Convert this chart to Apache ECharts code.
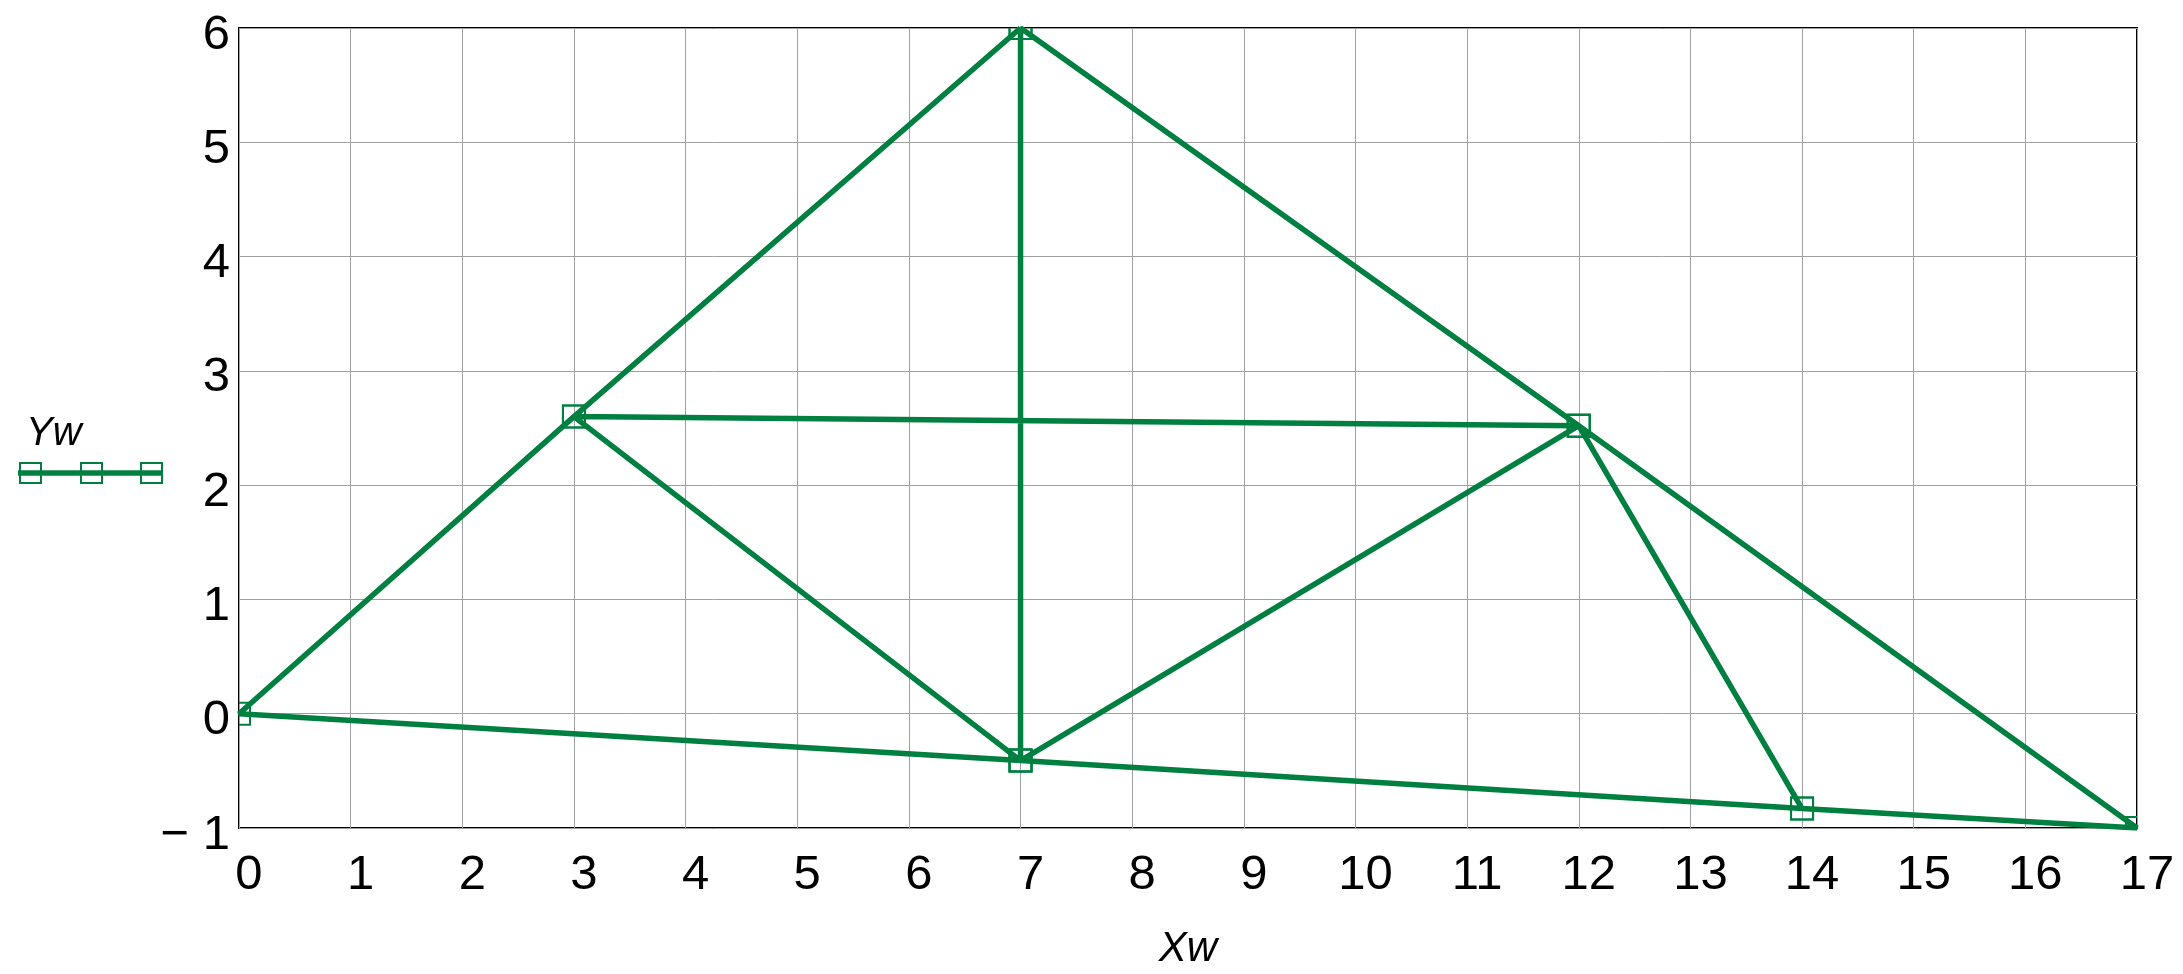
<!DOCTYPE html>
<html>
<head>
<meta charset="utf-8">
<style>
html,body{margin:0;padding:0;background:#fff;}
#chart{width:2183px;height:974px;}
</style>
<script src="https://cdn.jsdelivr.net/npm/echarts@6/dist/echarts.min.js"></script>
</head>
<body>
<div id="chart"></div>
<script>
// Truss path (Xw, Yw), traced as one polyline
const xw = [7, 3, 0, 7, 3, 12, 7, 7, 12, 14, 12, 17, 14, 7];
const yw = [6, 2.6, 0, -0.41, 2.6, 2.52, 6, -0.41, 2.52, -0.83, 2.52, -1, -0.83, -0.41];
// Axis ticks
const xTicks = [0,1,2,3,4,5,6,7,8,9,10,11,12,13,14,15,16,17];
const yTicks = [-1,0,1,2,3,4,5,6];
const seriesName = 'Yw';
const xName = 'Xw';

const GREEN = '#008040';
const FONT = '"Liberation Sans", Arial, sans-serif';

const pts = xw.map((x, i) => [x, yw[i]]);

const chart = echarts.init(document.getElementById('chart'), null, {renderer: 'canvas'});
chart.setOption({
  animation: false,
  backgroundColor: '#fff',
  grid: {left: 239, right: 46, top: 28, bottom: 146, show: true, borderColor: '#000', borderWidth: 2,
    containLabel: false, outerBoundsMode: 'none'},
  xAxis: {
    type: 'value', min: xTicks[0], max: xTicks[xTicks.length-1], interval: 1,
    name: xName, nameLocation: 'middle', nameGap: 100,
    nameTextStyle: {fontFamily: FONT, fontSize: 42, fontStyle: 'italic', color: '#000'},
    axisLine: {show: false}, axisTick: {show: false},
    splitLine: {show: true, lineStyle: {color: '#a0a0a0', width: 1}},
    axisLabel: {fontFamily: FONT, fontSize: 49, color: '#000', margin: 23, padding: [0,0,0,20],
      formatter: v => String(v)}
  },
  yAxis: {
    type: 'value', min: yTicks[0], max: yTicks[yTicks.length-1], interval: 1,
    axisLine: {show: false}, axisTick: {show: false},
    splitLine: {show: true, lineStyle: {color: '#a0a0a0', width: 1}},
    axisLabel: {fontFamily: FONT, fontSize: 49, color: '#000', margin: 9,
      verticalAlign: 'top', lineHeight: 14,
      formatter: v => v < 0 ? '\u2212 ' + Math.abs(v) : String(v)}
  },
  series: [
    {
      name: seriesName, type: 'line', data: pts, showSymbol: false, clip: true,
      lineStyle: {color: GREEN, width: 5.5}, itemStyle: {color: GREEN}, z: 3
    },
    {
      name: seriesName + ' markers', type: 'custom', data: pts, clip: true, z: 2,
      renderItem: (params, api) => {
        const p = api.coord([api.value(0), api.value(1)]);
        return {type: 'rect', shape: {x: p[0]-11, y: p[1]-11, width: 22, height: 22},
          style: {fill: 'none', stroke: GREEN, lineWidth: 2}};
      }
    }
  ],
  graphic: [
    {type: 'text', left: 26, top: 414, style: {text: seriesName, font: 'italic 40px ' + FONT, fill: '#000'}},
    {type: 'line', shape: {x1: 18, y1: 473, x2: 163, y2: 473}, style: {stroke: GREEN, lineWidth: 5.5}},
    {type: 'rect', shape: {x: 20, y: 463, width: 21, height: 20}, style: {fill: 'none', stroke: GREEN, lineWidth: 2}},
    {type: 'rect', shape: {x: 81, y: 463, width: 21, height: 20}, style: {fill: 'none', stroke: GREEN, lineWidth: 2}},
    {type: 'rect', shape: {x: 141, y: 463, width: 21, height: 20}, style: {fill: 'none', stroke: GREEN, lineWidth: 2}}
  ]
});
</script>
</body>
</html>
